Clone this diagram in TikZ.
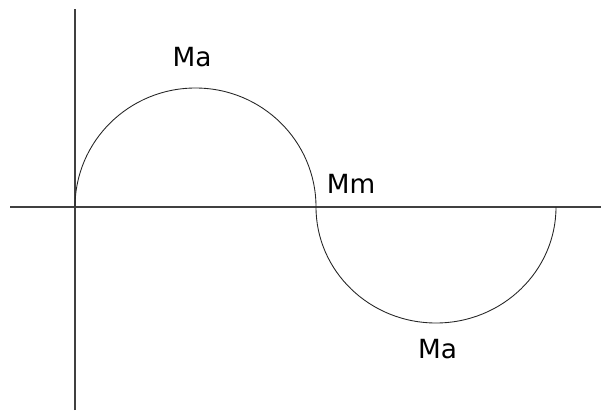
\documentclass[tikz,border=0pt]{standalone}
\usepackage{fontspec}
\setmainfont{DejaVu Sans}
\usepackage{tikz}

\begin{document}
\begin{tikzpicture}[x=0.02cm, y=0.02cm,
    axis/.style={black!75, line width=0.6pt},
    curve/.style={black!85, line width=0.5pt},
    lbl/.style={inner sep=0pt, font=\fontsize{15}{18}\selectfont}]
    \useasboundingbox (0,0) rectangle (601,410);
    \coordinate (xl) at (10,203);
    \coordinate (xr) at (601,203);
    \coordinate (yt) at (75,401);
    \coordinate (yb) at (75,0);
    \draw[axis] (xl) -- (xr);
    \draw[axis] (yb) -- (yt);
    \draw[curve] (75,203) arc[start angle=180, end angle=0, x radius=120.5, y radius=119]
        arc[start angle=180, end angle=360, x radius=120, y radius=116];
    \node[lbl] (ma1) at (192,352.5) {Ma};
    \node[lbl] (mm) at (351,226) {Mm};
    \node[lbl] (ma2) at (437.5,60.5) {Ma};
\end{tikzpicture}
\end{document}
